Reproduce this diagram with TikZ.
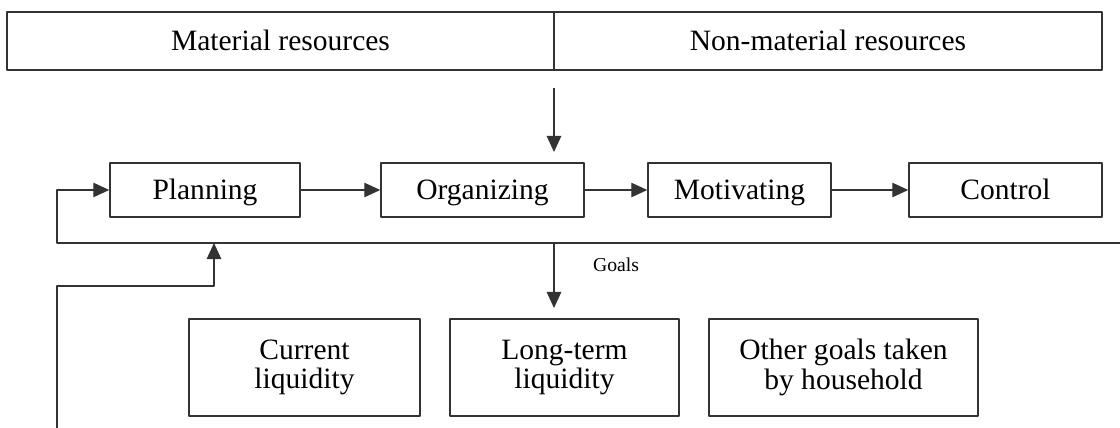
\documentclass[tikz,border=0pt]{standalone}
\usepackage{fontspec}
\setmainfont{Liberation Serif}
\usetikzlibrary{arrows.meta}
\begin{document}
\begin{tikzpicture}[x=0.025cm,y=-0.025cm,line join = round,>={Triangle[length=4mm,width=3.6mm]},
	box/.style={draw=black!80,line width=1pt,inner sep=0pt,align=center,font=\fontsize{21}{24}\selectfont},
	fn/.style={box,text height=16pt,text depth=2.5pt,minimum height=1.35cm},
	link/.style={draw=black!80,line width=1pt}]
			\useasboundingbox (0,0) rectangle (1120,428);
			% resources
			\node[fn,minimum width=13.675cm,minimum height=1.45cm] (mat) at (280.5,41) {Material resources};
			\node[fn,minimum width=13.7cm,minimum height=1.45cm] (nonmat) at (828,41) {Non-material resources};
			% management functions
			\node[fn,minimum width=4.75cm] (plan) at (205,190) {Planning};
			\node[fn,minimum width=5.075cm] (org) at (482.5,190) {Organizing};
			\node[fn,minimum width=4.575cm] (mot) at (739.5,190) {Motivating};
			\node[fn,minimum width=4.825cm] (ctrl) at (1005.5,190) {Control};
			% goals
			\node[box,minimum width=5.775cm,minimum height=2.425cm] (cur) at (304.5,367.5) {Current\\[-3pt]liquidity};
			\node[box,minimum width=5.725cm,minimum height=2.425cm] (lterm) at (564.5,367.5) {Long-term\\[-3pt]liquidity};
			\node[box,minimum width=6.725cm,minimum height=2.425cm] (other) at (843.5,367.5) {Other goals taken\\[-3pt]by household};
			\node[font=\fontsize{14}{16}\selectfont] (goals) at (616,265) {Goals};
			\coordinate (resS) at (554,88);
			\coordinate (resE) at (554,152);
			\coordinate (fbR) at (1120,243);
			\coordinate (fbL) at (57,243);
			\coordinate (loopS) at (57,428);
			\coordinate (loopK) at (214,286);
			\coordinate (loopE) at (214,243);
			\coordinate (goalS) at (554,243);
			\coordinate (goalE) at (554,308);
			\draw[link,->] (resS)--(resE);
			\draw[link,->] (plan)--(org);
			\draw[link,->] (org)--(mot);
			\draw[link,->] (mot)--(ctrl);
			\draw[link,->] (fbR)--(fbL) |- (plan.west);
			\draw[link,->] (loopS) |- (loopK)--(loopE);
			\draw[link,->] (goalS)--(goalE);
	\end{tikzpicture}
\end{document}
